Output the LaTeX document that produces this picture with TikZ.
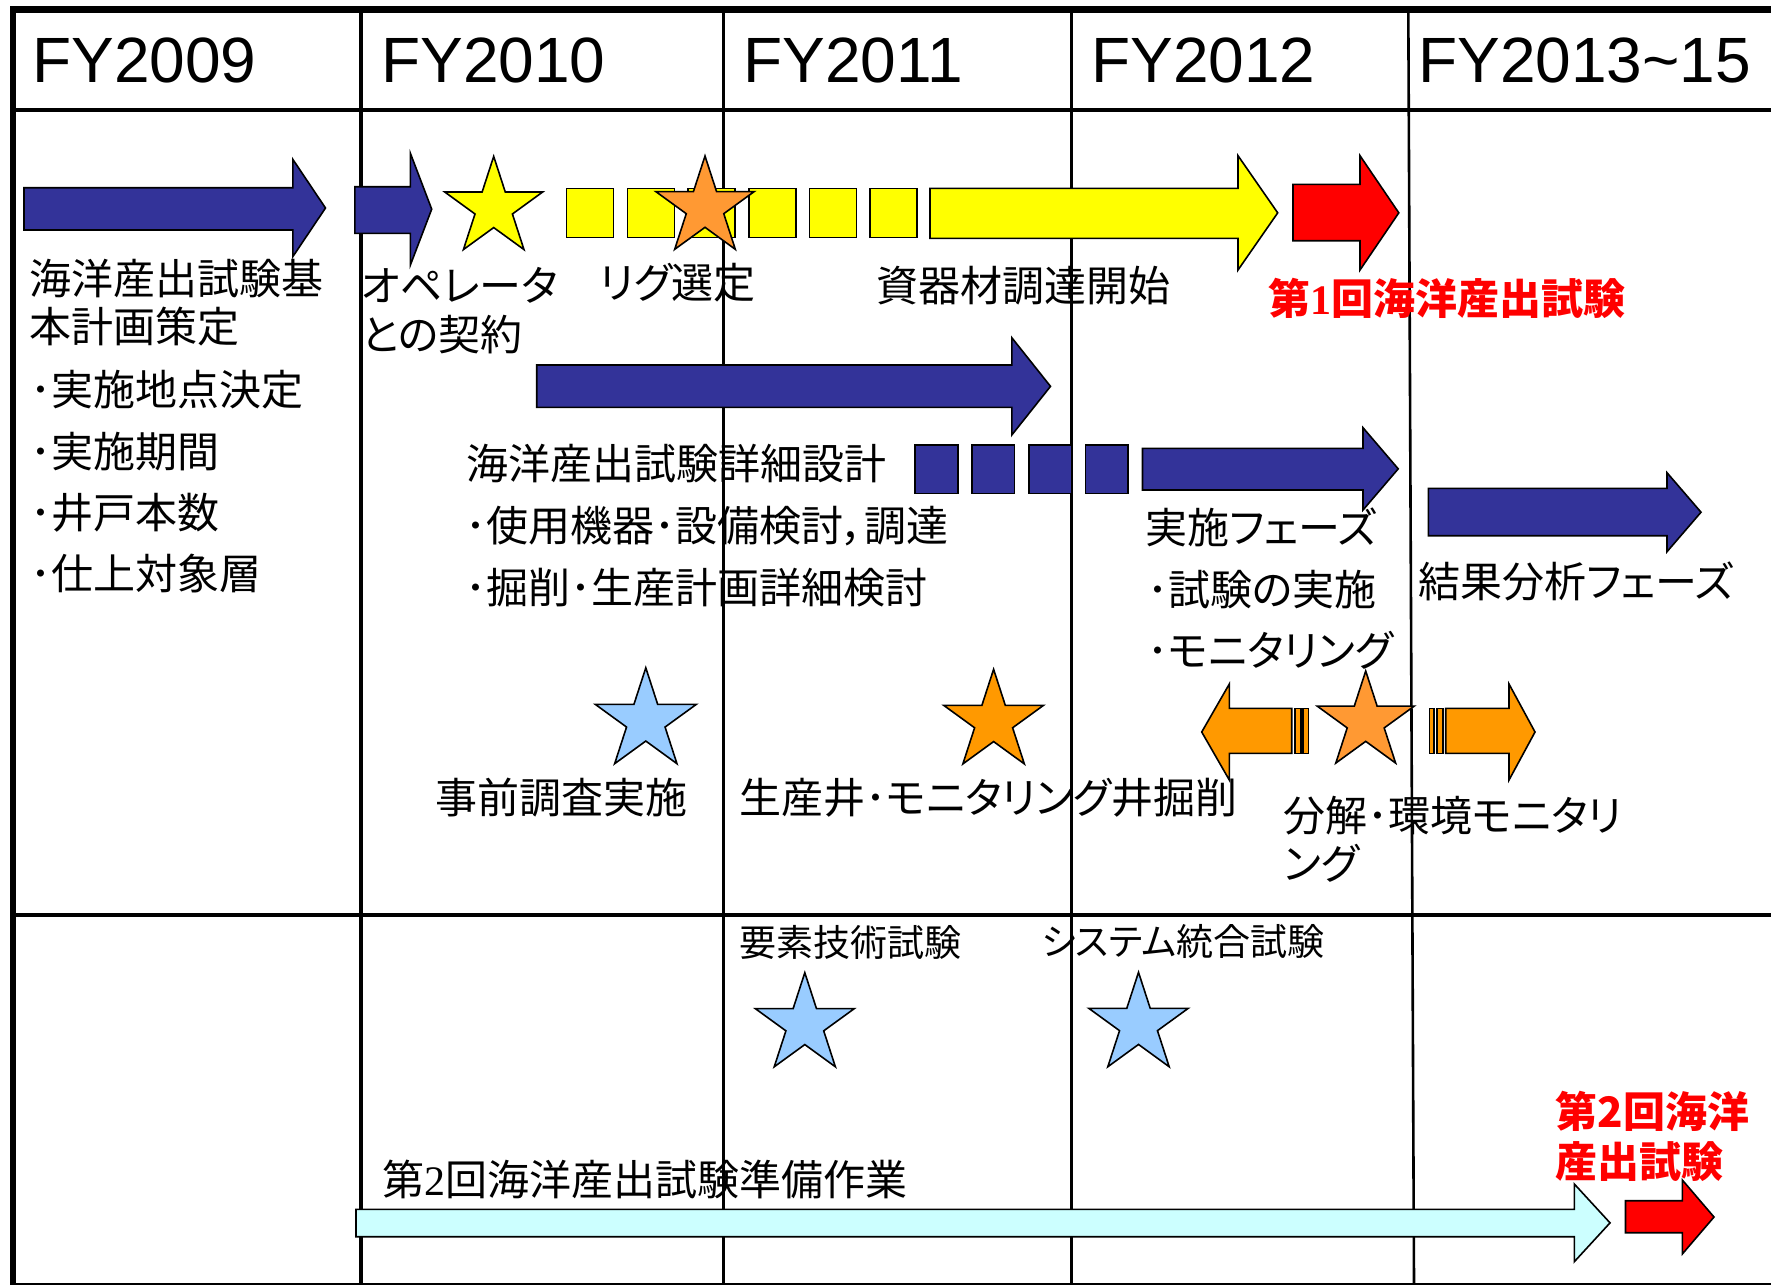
\documentclass[tikz,border=0pt]{standalone}
\usepackage{fontspec}
\setmainfont{Liberation Sans}
\newfontfamily\jp{Noto Sans CJK JP}[RawFeature={+palt}]
\newfontfamily\serifd{Liberation Serif}
\usetikzlibrary{shapes.geometric}
\definecolor{navy}{HTML}{333399}
\definecolor{yel}{HTML}{FFFF00}
\definecolor{orA}{HTML}{FF9933}
\definecolor{orB}{HTML}{FF9900}
\definecolor{lblue}{HTML}{99CCFF}
\definecolor{lcyan}{HTML}{CCFFFF}
\definecolor{rred}{HTML}{FF0000}
\newcommand\blockR[8]{\draw[#1] (#2,#5) -- (#3,#5) -- (#3,#7) -- (#4,{(#7+#8)/2}) -- (#3,#8) -- (#3,#6) -- (#2,#6) -- cycle;}
\tikzset{
  shp/.style={draw=black, line width=0.8pt, line join=miter},
  navyarr/.style={shp, fill=navy},
  yelarr/.style={shp, fill=yel},
  redarr/.style={shp, fill=rred},
  orarr/.style={shp, fill=orB},
  cyarr/.style={shp, fill=lcyan},
  starshape/.style={shape=star, star points=5, star point ratio=2.618, inner sep=0pt, shp, minimum size=#1},
  ysq/.style={shp, fill=yel, minimum width=23.5pt, minimum height=24.5pt, inner sep=0pt},
  nsq/.style={shp, fill=navy, minimum width=21.3pt, minimum height=24.2pt, inner sep=0pt},
  hdr/.style={font=\fontsize{32}{32}\selectfont, anchor=base west, inner sep=0pt},
  jt/.style={font=\jp\fontsize{21}{25}\selectfont, anchor=west, inner sep=0pt},
  jts/.style={font=\jp\fontsize{18.5}{22}\selectfont, anchor=west, inner sep=0pt},
  jred/.style={font=\jp\bfseries\fontsize{21}{25}\selectfont, text=rred, anchor=west, inner sep=0pt},
}
\begin{document}
\begin{tikzpicture}[x=0.5pt,y=-0.5pt]
\useasboundingbox (0,0) rectangle (1771,1285);
% ---------- grid ----------
\draw[line width=3.4pt] (10,9.3) -- (1771,9.3);
\draw[line width=3pt] (13,6) -- (13,1285);
\draw[line width=2pt] (13,110) -- (1771,110);
\draw[line width=1.8pt] (13,914.7) -- (1771,914.7);
\draw[line width=1.2pt] (13,1283.8) -- (1771,1283.8);
\draw[line width=2pt] (360.5,9) -- (360.5,1284);
\draw[line width=1.8pt] (723.5,9) -- (723.5,1284);
\draw[line width=1.5pt] (1071.7,9) -- (1071.7,1284);
\draw[line width=1.3pt] (1408.3,9) -- (1414,1284);
% ---------- header ----------
\node[hdr] (h1) at (32,82) {FY2009};
\node[hdr] (h2) at (381,82) {FY2010};
\node[hdr] (h3) at (743,82) {FY2011};
\node[hdr] (h4) at (1091,82) {FY2012};
\node[hdr] (h5) at (1418,82) {FY2013\textasciitilde15};
% ---------- row 1 ----------
\blockR{navyarr}{24}{292.8}{325.5}{187.7}{230}{159.3}{256.7}
\blockR{navyarr}{354.8}{410.4}{431.7}{186.7}{233.3}{153.3}{265}
\node[starshape=51.5pt, fill=yel] (s1) at (493.7,207.9) {};
\foreach \k in {0,...,5}
  \node[ysq] (ysq\k) at ({590.1+\k*60.7},212.8) {};
\node[starshape=51.6pt, fill=orA] (s2) at (705,207.6) {};
\blockR{yelarr}{930}{1238}{1277.7}{188.3}{238.3}{155.7}{270}
\blockR{redarr}{1293}{1360}{1398.8}{184.3}{240.7}{155.7}{270}
\node[jt] (t1) at (29,279) {海洋産出試験基};
\node[jt] (t2) at (29,326.5) {本計画策定};
\node[jt] (t3) at (30,390) {･実施地点決定};
\node[jt] (t4) at (30,451.5) {･実施期間};
\node[jt] (t5) at (30,512.5) {･井戸本数};
\node[jt] (t6) at (30,574) {･仕上対象層};
\node[jt] (t7) at (361,285) {オペレータ};
\node[jt] (t8) at (361,335) {との契約};
\node[jt] (t9) at (599,283) {リグ選定};
\node[jt] (t10) at (876,286) {資器材調達開始};
\node[jred] (t11) at (1268,298) {第{\serifd\bfseries 1}回海洋産出試験};
% ---------- row 2 ----------
\blockR{navyarr}{536.7}{1011.8}{1050.5}{365}{407.3}{337.7}{435}
\foreach \k in {0,...,3}
  \node[nsq] (nsq\k) at ({936.5+\k*56.8},469.2) {};
\blockR{navyarr}{1142.5}{1363}{1398.2}{448.3}{490}{427.7}{510}
\blockR{navyarr}{1428.3}{1667}{1701}{488.3}{535.7}{472.7}{551.7}
\node[jt] (t12) at (466,464) {海洋産出試験詳細設計};
\node[jt] (t13) at (465,526.5) {･使用機器･設備検討，調達};
\node[jt] (t14) at (465,588) {･掘削･生産計画詳細検討};
\node[jt] (t15) at (1145,527.5) {実施フェーズ};
\node[jt] (t16) at (1147,590) {･試験の実施};
\node[jt] (t17) at (1147,650.5) {･モニタリング};
\node[jt] (t18) at (1418,581.7) {結果分析フェーズ};
% ---------- row 3 ----------
\node[starshape=53pt, fill=lblue] (s3) at (645.8,720.8) {};
\node[starshape=52.3pt, fill=orB] (s4) at (993.6,721.6) {};
\blockR{orarr}{1291.7}{1229.3}{1201.7}{708.3}{753.3}{684}{780}
\draw[orarr] (1295,708.3) rectangle (1300.7,753.3);
\draw[orarr] (1302.7,708.3) rectangle (1308.3,753.3);
\node[starshape=50.9pt, fill=orA] (s5) at (1365.7,721.9) {};
\draw[orarr] (1429.3,708.3) rectangle (1434,753.3);
\draw[orarr] (1436.7,708.3) rectangle (1442.7,753.3);
\blockR{orarr}{1445.7}{1509}{1535}{708.3}{753.3}{684}{780}
\node[jt] (t19) at (435,798) {事前調査実施};
\node[jt] (t20) at (739,797.5) {生産井･モニタリング井掘削};
\node[jt] (t21) at (1283,816) {分解･環境モニタリ};
\node[jt] (t22) at (1283,863) {ング};
% ---------- lower section ----------
\node[jts] (t23) at (739,942.5) {要素技術試験};
\node[jts] (t24) at (1041,942) {システム統合試験};
\node[starshape=52pt, fill=lblue] (s6) at (804.8,1024.7) {};
\node[starshape=52.2pt, fill=lblue] (s7) at (1138.5,1024.5) {};
\node[jt] (t25) at (382,1179) {第{\serifd 2}回海洋産出試験準備作業};
\blockR{cyarr}{356}{1574.3}{1610}{1209.3}{1236.7}{1184}{1261.7}
\blockR{redarr}{1625.5}{1682.3}{1714}{1200.7}{1232.7}{1180}{1254}
\node[jred] (t26) at (1555,1111) {第2回海洋};
\node[jred] (t27) at (1555,1162) {産出試験};
\end{tikzpicture}
\end{document}
